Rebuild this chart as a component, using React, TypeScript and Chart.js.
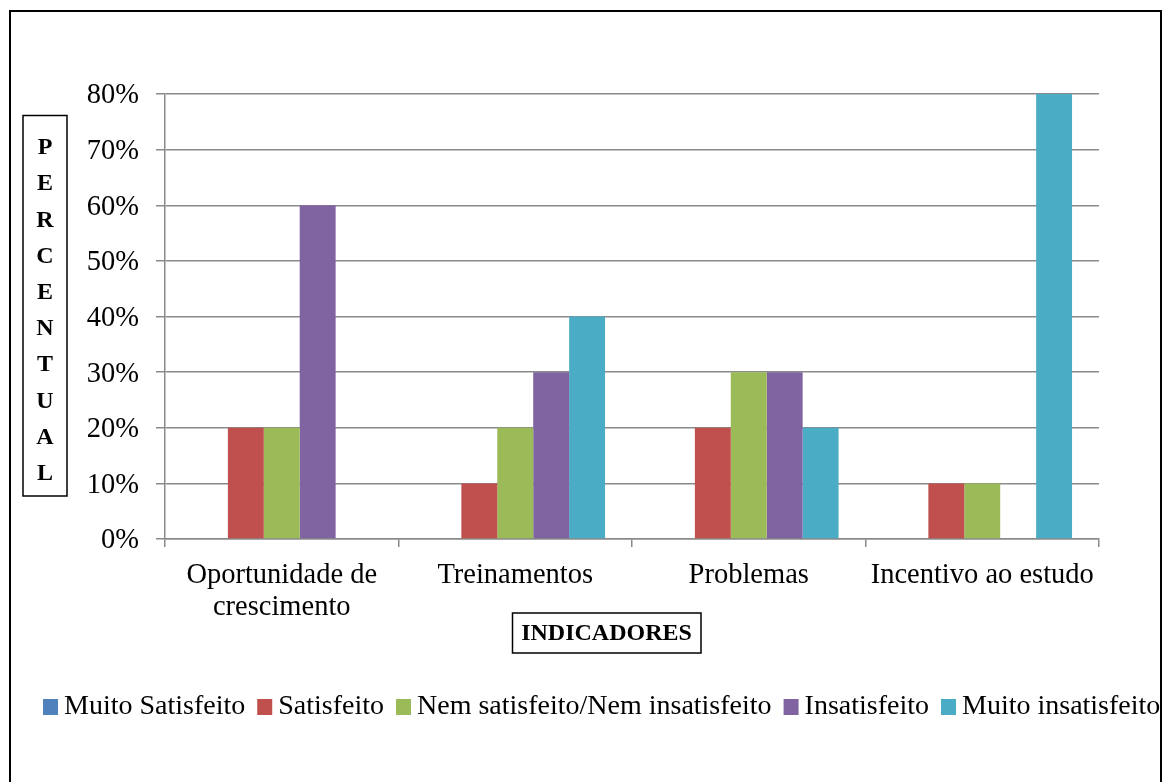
import React, { useEffect, useRef } from "react";
import { Chart, registerables } from "chart.js";

Chart.register(...registerables);

const categories: (string | string[])[] = [
  ["Oportunidade de", "crescimento"],
  "Treinamentos",
  "Problemas",
  "Incentivo ao estudo",
];

const seriesNames = [
  "Muito Satisfeito",
  "Satisfeito",
  "Nem satisfeito/Nem insatisfeito",
  "Insatisfeito",
  "Muito insatisfeito",
];

const muitoSatisfeito = [0, 0, 0, 0];
const satisfeito = [20, 10, 20, 10];
const nemNem = [20, 20, 30, 10];
const insatisfeito = [60, 30, 30, 0];
const muitoInsatisfeito = [0, 40, 20, 80];

const seriesColors = ["#4F81BD", "#C0504D", "#9BBB59", "#8064A2", "#4BACC6"];

const yTitle = "PERCENTUAL";
const xTitle = "INDICADORES";

const FONT = "'Liberation Serif', 'Times New Roman', serif";

const decorPlugin = {
  id: "decor",
  beforeDraw(chart: any) {
    const ctx = chart.ctx;
    ctx.save();
    ctx.fillStyle = "#ffffff";
    ctx.fillRect(0, 0, chart.width, chart.height);
    ctx.restore();
  },
  afterDraw(chart: any) {
    const ctx = chart.ctx;
    ctx.save();
    // outer frame
    ctx.strokeStyle = "#000";
    ctx.lineWidth = 2;
    ctx.strokeRect(10, 11, 1151, 820);

    // y title box
    ctx.lineWidth = 1.5;
    ctx.strokeRect(23, 115.5, 44, 380.5);
    ctx.fillStyle = "#000";
    ctx.font = `bold 24px ${FONT}`;
    ctx.textAlign = "center";
    ctx.textBaseline = "middle";
    const letters = yTitle.split("");
    letters.forEach((ch, i) => {
      ctx.fillText(ch, 45, 148 + i * 36.2);
    });

    // x title box
    ctx.strokeRect(512.5, 613, 188.5, 40);
    ctx.fillText(xTitle, 606.5, 634);

    // legend
    ctx.font = `28px ${FONT}`;
    ctx.textAlign = "left";
    let x = 43;
    const yc = 707;
    chart.data.datasets.forEach((ds: any) => {
      ctx.fillStyle = ds.backgroundColor;
      ctx.fillRect(x, yc - 8, 15, 16);
      ctx.fillStyle = "#000";
      ctx.fillText(ds.label, x + 21, yc);
      x += 21 + ctx.measureText(ds.label).width + 12;
    });
    ctx.restore();
  },
};

export default function App() {
  const ref = useRef<HTMLCanvasElement>(null);
  useEffect(() => {
    if (!ref.current) return;
    const values = [muitoSatisfeito, satisfeito, nemNem, insatisfeito, muitoInsatisfeito];
    const chart = new Chart(ref.current, {
      type: "bar",
      data: {
        labels: categories,
        datasets: values.map((v, i) => ({
          label: seriesNames[i],
          data: v,
          backgroundColor: seriesColors[i],
          borderWidth: 0,
          categoryPercentage: 5 / 6.5,
          barPercentage: 1,
        })),
      },
      options: {
        responsive: false,
        animation: false,
        devicePixelRatio: 1,
        layout: { padding: { left: 85, right: 63, top: 94, bottom: 163 } },
        plugins: {
          legend: { display: false },
          tooltip: { enabled: false },
          title: { display: false },
        },
        scales: {
          x: {
            afterFit: (s: any) => {
              s.height = 80;
            },
            grid: {
              offset: true,
              drawOnChartArea: false,
              drawTicks: true,
              tickLength: 8,
              color: "#8a8a8a",
              lineWidth: 1.5,
            },
            border: { color: "#8a8a8a", width: 1.5 },
            ticks: {
              color: "#000",
              font: { family: FONT, size: 28.5, lineHeight: 1.1 },
              padding: 13,
              maxRotation: 0,
              autoSkip: false,
            },
          },
          y: {
            min: 0,
            max: 80,
            afterFit: (s: any) => {
              s.width = 80;
            },
            grid: {
              color: "#8a8a8a",
              lineWidth: 1.5,
              tickLength: 9,
            },
            border: { color: "#8a8a8a", width: 1.5 },
            ticks: {
              stepSize: 10,
              color: "#000",
              font: { family: FONT, size: 28.5 },
              padding: 17,
              labelOffset: 2,
              callback: (v: any) => `${v}%`,
            },
          },
        },
      },
      plugins: [decorPlugin],
    });
    return () => chart.destroy();
  }, []);
  return (
    <div style={{ position: "absolute", left: 0, top: 0, width: 1162, height: 782 }}>
      <canvas ref={ref} width={1162} height={782} style={{ width: 1162, height: 782, display: "block" }} />
    </div>
  );
}
